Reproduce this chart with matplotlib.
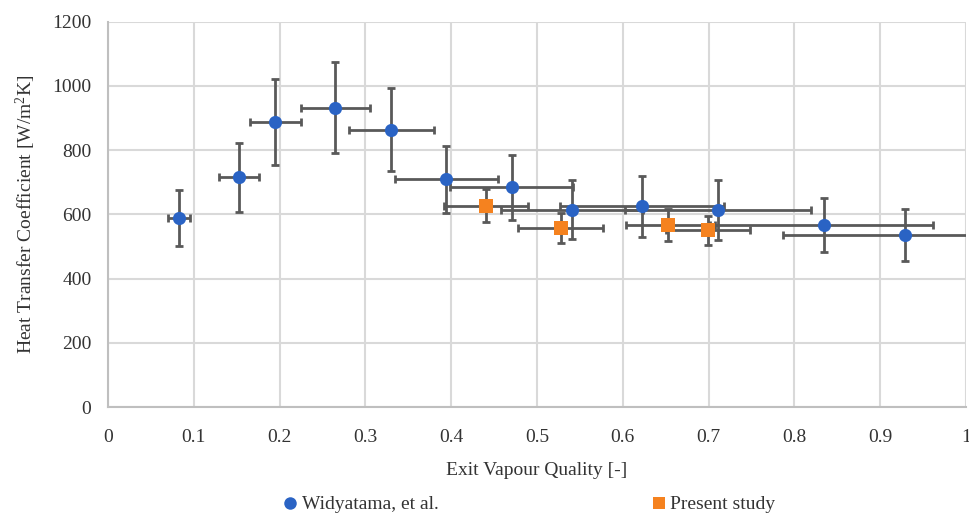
import matplotlib.pyplot as plt
from matplotlib.lines import Line2D

plt.rcParams['font.family'] = ['Liberation Serif', 'DejaVu Serif']
plt.rcParams['mathtext.fontset'] = 'custom'
plt.rcParams['mathtext.rm'] = 'Liberation Serif'

# Widyatama, et al.
lit_x = [0.083, 0.153, 0.195, 0.265, 0.330, 0.394, 0.4705, 0.541, 0.622, 0.711, 0.8345, 0.929]
lit_y = [588, 715, 888, 932, 864, 709, 684, 614, 625, 614, 567, 535]
lit_xerr = [0.0126, 0.0233, 0.030, 0.0404, 0.0497, 0.060, 0.0714, 0.083, 0.0956, 0.1085, 0.1274, 0.1426]
lit_yerr = [88, 107, 134, 141, 130, 105, 102, 92, 94, 94, 85, 81]

# Present study
our_x = [0.440, 0.5276, 0.653, 0.6997]
our_y = [627, 557, 567, 551]
our_xerr = [0.049, 0.0497, 0.049, 0.049]
our_yerr = [52, 47, 51, 45]

blue = '#2A63C4'
orange = '#F5821F'
err_col = '#595959'
txt_col = '#333333'

fig = plt.figure(figsize=(9.69, 5.16), dpi=100)
ax = fig.add_axes([0.1115, 0.2112, 0.8854, 0.7468])

eb = dict(fmt='none', ecolor=err_col, elinewidth=2, capsize=3, capthick=2, zorder=3)
ax.errorbar(lit_x, lit_y, xerr=lit_xerr, yerr=lit_yerr, **eb)
ax.errorbar(our_x, our_y, xerr=our_xerr, yerr=our_yerr, **eb)
ax.plot(lit_x, lit_y, 'o', color=blue, markersize=9.5, markeredgewidth=0, zorder=4)
ax.plot(our_x, our_y, 's', color=orange, markersize=9.5, markeredgewidth=0, zorder=5)

ax.set_xlim(0, 1)
ax.set_ylim(0, 1200)
ax.set_xticks([0, 0.1, 0.2, 0.3, 0.4, 0.5, 0.6, 0.7, 0.8, 0.9, 1])
ax.set_xticklabels(['0', '0.1', '0.2', '0.3', '0.4', '0.5', '0.6', '0.7', '0.8', '0.9', '1'])
ax.set_yticks(range(0, 1201, 200))
ax.grid(True, color='#d9d9d9', linewidth=1.5, zorder=0)
ax.set_axisbelow(True)
ax.tick_params(length=0, labelsize=14, colors=txt_col)
ax.tick_params(axis='x', pad=16)
ax.tick_params(axis='y', pad=12)
for s in ['top', 'right']:
    ax.spines[s].set_visible(False)
for s in ['left', 'bottom']:
    ax.spines[s].set_color('#bfbfbf')
    ax.spines[s].set_linewidth(1.5)

ax.set_xlabel('Exit Vapour Quality [-]', fontsize=14, color=txt_col, labelpad=11)
ax.set_ylabel(r'Heat Transfer Coefficient [W/m$\mathregular{^2}$K]', fontsize=14,
              color=txt_col, labelpad=10)

handles = [Line2D([], [], marker='o', color=blue, linestyle='none', markersize=9, markeredgewidth=0),
           Line2D([], [], marker='s', color=orange, linestyle='none', markersize=9, markeredgewidth=0)]
fig.legend(handles, ['Widyatama, et al.', 'Present study'], loc='center',
           bbox_to_anchor=(0.547, 0.022), ncol=2, frameon=False, fontsize=14,
           handlelength=0.6, handletextpad=0.3, columnspacing=11, labelcolor=txt_col)

fig.savefig('out.png', dpi=100)
